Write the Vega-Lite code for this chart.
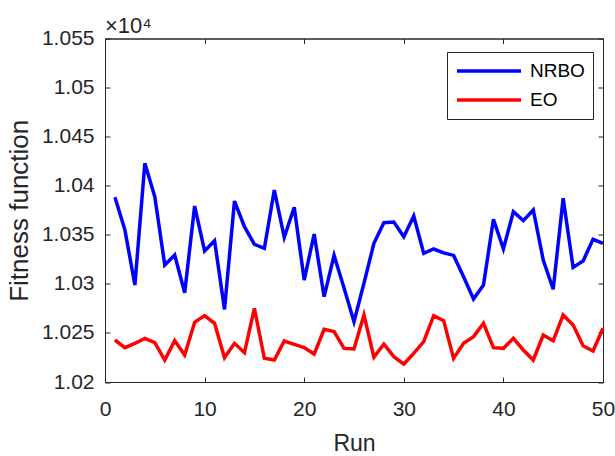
{
  "$schema": "https://vega.github.io/schema/vega-lite/v6.json",
  "width": 498,
  "height": 343.5,
  "autosize": {"type": "none"},
  "padding": {"left": 105, "top": 38.5, "right": 12, "bottom": 74},
  "background": "white",
  "config": {
    "view": {"stroke": "#262626", "strokeWidth": 1},
    "font": "Liberation Sans"
  },
  "title": {
    "text": "×10⁴",
    "anchor": "start",
    "frame": "group",
    "fontSize": 22,
    "fontWeight": "normal",
    "font": "Liberation Sans",
    "color": "#262626",
    "offset": 5,
    "dy": 15
  },
  "data": {
    "values": [
      {"run": 1, "algorithm": "NRBO", "fitness": 10388.2},
      {"run": 2, "algorithm": "NRBO", "fitness": 10354.9},
      {"run": 3, "algorithm": "NRBO", "fitness": 10298.8},
      {"run": 4, "algorithm": "NRBO", "fitness": 10422.8},
      {"run": 5, "algorithm": "NRBO", "fitness": 10388.8},
      {"run": 6, "algorithm": "NRBO", "fitness": 10319.2},
      {"run": 7, "algorithm": "NRBO", "fitness": 10329.4},
      {"run": 8, "algorithm": "NRBO", "fitness": 10291.0},
      {"run": 9, "algorithm": "NRBO", "fitness": 10379.3},
      {"run": 10, "algorithm": "NRBO", "fitness": 10333.5},
      {"run": 11, "algorithm": "NRBO", "fitness": 10344.0},
      {"run": 12, "algorithm": "NRBO", "fitness": 10274.0},
      {"run": 13, "algorithm": "NRBO", "fitness": 10384.4},
      {"run": 14, "algorithm": "NRBO", "fitness": 10358.3},
      {"run": 15, "algorithm": "NRBO", "fitness": 10340.3},
      {"run": 16, "algorithm": "NRBO", "fitness": 10336.2},
      {"run": 17, "algorithm": "NRBO", "fitness": 10395.6},
      {"run": 18, "algorithm": "NRBO", "fitness": 10347.4},
      {"run": 19, "algorithm": "NRBO", "fitness": 10378.0},
      {"run": 20, "algorithm": "NRBO", "fitness": 10303.9},
      {"run": 21, "algorithm": "NRBO", "fitness": 10350.8},
      {"run": 22, "algorithm": "NRBO", "fitness": 10286.9},
      {"run": 23, "algorithm": "NRBO", "fitness": 10329.0},
      {"run": 24, "algorithm": "NRBO", "fitness": 10295.8},
      {"run": 25, "algorithm": "NRBO", "fitness": 10261.4},
      {"run": 26, "algorithm": "NRBO", "fitness": 10300.6},
      {"run": 27, "algorithm": "NRBO", "fitness": 10341.3},
      {"run": 28, "algorithm": "NRBO", "fitness": 10362.3},
      {"run": 29, "algorithm": "NRBO", "fitness": 10363.0},
      {"run": 30, "algorithm": "NRBO", "fitness": 10348.0},
      {"run": 31, "algorithm": "NRBO", "fitness": 10369.1},
      {"run": 32, "algorithm": "NRBO", "fitness": 10331.1},
      {"run": 33, "algorithm": "NRBO", "fitness": 10335.5},
      {"run": 34, "algorithm": "NRBO", "fitness": 10331.5},
      {"run": 35, "algorithm": "NRBO", "fitness": 10329.0},
      {"run": 36, "algorithm": "NRBO", "fitness": 10307.3},
      {"run": 37, "algorithm": "NRBO", "fitness": 10284.6},
      {"run": 38, "algorithm": "NRBO", "fitness": 10298.8},
      {"run": 39, "algorithm": "NRBO", "fitness": 10365.7},
      {"run": 40, "algorithm": "NRBO", "fitness": 10335.5},
      {"run": 41, "algorithm": "NRBO", "fitness": 10373.5},
      {"run": 42, "algorithm": "NRBO", "fitness": 10364.4},
      {"run": 43, "algorithm": "NRBO", "fitness": 10375.3},
      {"run": 44, "algorithm": "NRBO", "fitness": 10324.3},
      {"run": 45, "algorithm": "NRBO", "fitness": 10294.5},
      {"run": 46, "algorithm": "NRBO", "fitness": 10387.2},
      {"run": 47, "algorithm": "NRBO", "fitness": 10316.8},
      {"run": 48, "algorithm": "NRBO", "fitness": 10323.3},
      {"run": 49, "algorithm": "NRBO", "fitness": 10345.4},
      {"run": 50, "algorithm": "NRBO", "fitness": 10341.3},
      {"run": 1, "algorithm": "EO", "fitness": 10242.8},
      {"run": 2, "algorithm": "EO", "fitness": 10235.0},
      {"run": 3, "algorithm": "EO", "fitness": 10239.4},
      {"run": 4, "algorithm": "EO", "fitness": 10244.5},
      {"run": 5, "algorithm": "EO", "fitness": 10240.0},
      {"run": 6, "algorithm": "EO", "fitness": 10222.4},
      {"run": 7, "algorithm": "EO", "fitness": 10242.1},
      {"run": 8, "algorithm": "EO", "fitness": 10227.5},
      {"run": 9, "algorithm": "EO", "fitness": 10260.8},
      {"run": 10, "algorithm": "EO", "fitness": 10267.6},
      {"run": 11, "algorithm": "EO", "fitness": 10259.8},
      {"run": 12, "algorithm": "EO", "fitness": 10224.8},
      {"run": 13, "algorithm": "EO", "fitness": 10239.4},
      {"run": 14, "algorithm": "EO", "fitness": 10229.9},
      {"run": 15, "algorithm": "EO", "fitness": 10275.1},
      {"run": 16, "algorithm": "EO", "fitness": 10224.1},
      {"run": 17, "algorithm": "EO", "fitness": 10222.4},
      {"run": 18, "algorithm": "EO", "fitness": 10241.8},
      {"run": 19, "algorithm": "EO", "fitness": 10238.4},
      {"run": 20, "algorithm": "EO", "fitness": 10235.0},
      {"run": 21, "algorithm": "EO", "fitness": 10228.5},
      {"run": 22, "algorithm": "EO", "fitness": 10253.7},
      {"run": 23, "algorithm": "EO", "fitness": 10251.3},
      {"run": 24, "algorithm": "EO", "fitness": 10234.3},
      {"run": 25, "algorithm": "EO", "fitness": 10233.6},
      {"run": 26, "algorithm": "EO", "fitness": 10268.3},
      {"run": 27, "algorithm": "EO", "fitness": 10225.2},
      {"run": 28, "algorithm": "EO", "fitness": 10238.7},
      {"run": 29, "algorithm": "EO", "fitness": 10225.8},
      {"run": 30, "algorithm": "EO", "fitness": 10218.3},
      {"run": 31, "algorithm": "EO", "fitness": 10229.2},
      {"run": 32, "algorithm": "EO", "fitness": 10241.1},
      {"run": 33, "algorithm": "EO", "fitness": 10267.6},
      {"run": 34, "algorithm": "EO", "fitness": 10262.5},
      {"run": 35, "algorithm": "EO", "fitness": 10224.1},
      {"run": 36, "algorithm": "EO", "fitness": 10239.4},
      {"run": 37, "algorithm": "EO", "fitness": 10246.2},
      {"run": 38, "algorithm": "EO", "fitness": 10259.8},
      {"run": 39, "algorithm": "EO", "fitness": 10235.0},
      {"run": 40, "algorithm": "EO", "fitness": 10234.3},
      {"run": 41, "algorithm": "EO", "fitness": 10244.5},
      {"run": 42, "algorithm": "EO", "fitness": 10232.6},
      {"run": 43, "algorithm": "EO", "fitness": 10222.4},
      {"run": 44, "algorithm": "EO", "fitness": 10247.9},
      {"run": 45, "algorithm": "EO", "fitness": 10242.1},
      {"run": 46, "algorithm": "EO", "fitness": 10268.3},
      {"run": 47, "algorithm": "EO", "fitness": 10258.1},
      {"run": 48, "algorithm": "EO", "fitness": 10237.0},
      {"run": 49, "algorithm": "EO", "fitness": 10231.6},
      {"run": 50, "algorithm": "EO", "fitness": 10254.7}
    ]
  },
  "layer": [
    {
      "mark": {"type": "line", "strokeWidth": 3.5, "strokeJoin": "miter"},
      "encoding": {
        "x": {
          "field": "run",
          "type": "quantitative",
          "scale": {"domain": [0, 50], "nice": false},
          "axis": {
            "orient": "bottom",
            "values": [0, 10, 20, 30, 40, 50],
            "grid": false,
            "labelFlush": false,
            "tickSize": -5,
            "tickColor": "#262626",
            "domainColor": "#262626",
            "labelFontSize": 21,
            "labelColor": "#262626",
            "labelPadding": 21,
            "labelFont": "Liberation Sans",
            "title": "Run",
            "titleFont": "Liberation Sans",
            "titleFontSize": 23,
            "titleFontWeight": "normal",
            "titleColor": "#262626",
            "titlePadding": 13
          }
        },
        "y": {
          "field": "fitness",
          "type": "quantitative",
          "scale": {"domain": [10200, 10550], "nice": false, "zero": false},
          "axis": {
            "orient": "left",
            "values": [10200, 10250, 10300, 10350, 10400, 10450, 10500, 10550],
            "labelExpr": "format(datum.value / 10000, '.4~f')",
            "grid": false,
            "labelFlush": false,
            "tickSize": -5,
            "tickColor": "#262626",
            "domainColor": "#262626",
            "labelFontSize": 21,
            "labelColor": "#262626",
            "labelPadding": 16,
            "labelFont": "Liberation Sans",
            "title": "Fitness function",
            "titleFont": "Liberation Sans",
            "titleFontSize": 26,
            "titleFontWeight": "normal",
            "titleColor": "#262626",
            "titlePadding": 9
          }
        },
        "color": {
          "field": "algorithm",
          "type": "nominal",
          "scale": {"domain": ["NRBO", "EO"], "range": ["#0000ff", "#ff0000"]},
          "legend": {
            "orient": "none",
            "legendX": 342,
            "legendY": 13.5,
            "title": null,
            "symbolType": "stroke",
            "symbolSize": 4096,
            "symbolStrokeWidth": 3.5,
            "clipHeight": 22,
            "rowPadding": 7,
            "padding": 8,
            "labelOffset": 7,
            "labelFontSize": 19,
            "labelFont": "Liberation Sans",
            "labelColor": "#000000",
            "strokeColor": "#262626",
            "fillColor": "white"
          }
        }
      }
    },
    {
      "mark": {"type": "line", "strokeOpacity": 0},
      "encoding": {
        "x": {
          "field": "run",
          "type": "quantitative",
          "axis": {
            "orient": "top",
            "values": [0, 10, 20, 30, 40, 50],
            "grid": false,
            "labels": false,
            "title": null,
            "tickSize": -5,
            "tickColor": "#262626",
            "domainColor": "#262626"
          }
        },
        "y": {
          "field": "fitness",
          "type": "quantitative",
          "axis": {
            "orient": "right",
            "values": [10200, 10250, 10300, 10350, 10400, 10450, 10500, 10550],
            "grid": false,
            "labels": false,
            "title": null,
            "tickSize": -5,
            "tickColor": "#262626",
            "domainColor": "#262626"
          }
        },
        "detail": {"field": "algorithm"}
      }
    }
  ],
  "resolve": {"axis": {"x": "independent", "y": "independent"}}
}
